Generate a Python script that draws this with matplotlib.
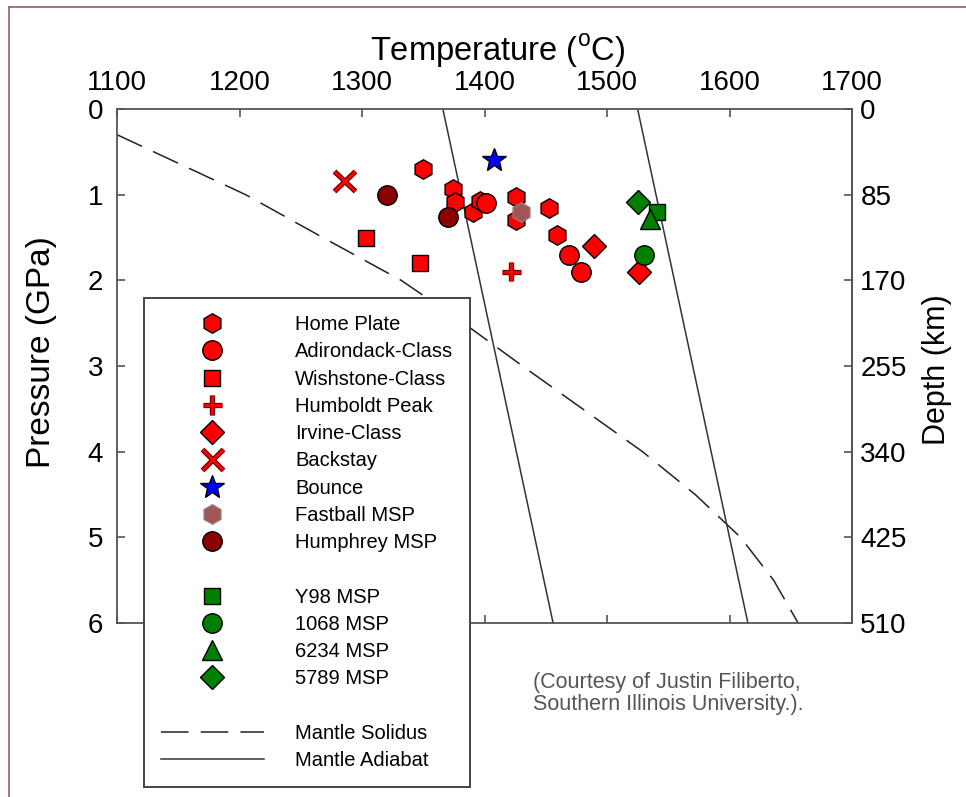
import matplotlib.pyplot as plt
import matplotlib.patheffects as pe
from matplotlib.lines import Line2D

plt.rcParams['font.family'] = ['Liberation Sans', 'DejaVu Sans']
plt.rcParams['mathtext.fontset'] = 'custom'
plt.rcParams['mathtext.rm'] = 'Liberation Sans'

# sample estimates: temperature (C) and pressure (GPa)
home_plate_t = [1350, 1374, 1376, 1391, 1396, 1426, 1426, 1453, 1459]
home_plate_p = [0.70, 0.93, 1.08, 1.20, 1.07, 1.03, 1.30, 1.16, 1.47]
adirondack_t = [1401, 1469, 1479]
adirondack_p = [1.10, 1.70, 1.90]
wishstone_t = [1303, 1347]
wishstone_p = [1.50, 1.80]
humboldt_t = [1422]
humboldt_p = [1.90]
irvine_t = [1489, 1526]
irvine_p = [1.60, 1.90]
backstay_t = [1286]
backstay_p = [0.84]
bounce_t = [1408]
bounce_p = [0.60]
fastball_t = [1430]
fastball_p = [1.20]
humphrey_t = [1320, 1370]
humphrey_p = [1.00, 1.26]
y98_t = [1541]
y98_p = [1.20]
msp1068_t = [1530]
msp1068_p = [1.70]
msp6234_t = [1535]
msp6234_p = [1.28]
msp5789_t = [1525]
msp5789_p = [1.09]

# mantle curves
solidus_t = [1100, 1130, 1205, 1268, 1332, 1383, 1431, 1480, 1529, 1572, 1609, 1636, 1656]
solidus_p = [0.30, 0.5, 1.0, 1.5, 2.0, 2.5, 3.0, 3.5, 4.0, 4.5, 5.0, 5.5, 6.0]
adiabat1_t = [1366, 1456]
adiabat2_t = [1525, 1615]
adiabat_p = [0, 6]

temp_ticks = [1100, 1200, 1300, 1400, 1500, 1600, 1700]
press_ticks = [0, 1, 2, 3, 4, 5, 6]
depth_ticks = [0, 85, 170, 255, 340, 425, 510]

fig = plt.figure(figsize=(9.66, 7.97), dpi=100)
ax = fig.add_axes([117/966, 1-623/797, 735/966, 514/797])

sol, = ax.plot(solidus_t, solidus_p, color='#222222', lw=1.1, dashes=(18, 8), label='Mantle Solidus')
adi, = ax.plot(adiabat1_t, adiabat_p, color='#333333', lw=1.1, label='Mantle Adiabat')
ax.plot(adiabat2_t, adiabat_p, color='#333333', lw=1.1)


def pts(t, p, marker, ms, fc, ec='black', label=None, **kw):
    return ax.plot(t, p, ls='none', marker=marker, ms=ms, mfc=fc, mec=ec,
                   mew=1.0, label=label, **kw)[0]


outline = [pe.withStroke(linewidth=3.8, foreground='#6e0000')]

h_home = pts(home_plate_t, home_plate_p, 'h', 14, '#ff0000', label='Home Plate')
h_adir = pts(adirondack_t, adirondack_p, 'o', 14, '#ff0000', label='Adirondack-Class')
h_wish = pts(wishstone_t, wishstone_p, 's', 12, '#ff0000', label='Wishstone-Class')
h_humb = ax.plot(humboldt_t, humboldt_p, ls='none', marker='+', ms=14, mew=2.0,
                 color='#ff0000', path_effects=outline, label='Humboldt Peak')[0]
h_irv = pts(irvine_t, irvine_p, 'D', 12, '#ff0000', label='Irvine-Class')
h_back = ax.plot(backstay_t, backstay_p, ls='none', marker='x', ms=15, mew=2.0,
                 color='#ff0000', path_effects=outline, label='Backstay')[0]
h_boun = pts(bounce_t, bounce_p, '*', 18, '#0000ff', label='Bounce')
h_fast = pts(fastball_t, fastball_p, 'h', 14, '#a05656', ec='#9a7a7a', label='Fastball MSP')
h_hump = pts(humphrey_t, humphrey_p, 'o', 14, '#8b0000', label='Humphrey MSP')
h_y98 = pts(y98_t, y98_p, 's', 12, '#008000', label='Y98 MSP')
h_1068 = pts(msp1068_t, msp1068_p, 'o', 14, '#008000', label='1068 MSP')
h_6234 = pts(msp6234_t, msp6234_p, '^', 14, '#008000', label='6234 MSP')
h_5789 = pts(msp5789_t, msp5789_p, 'D', 12, '#008000', label='5789 MSP')

blank = Line2D([], [], ls='none')
handles = [h_home, h_adir, h_wish, h_humb, h_irv, h_back, h_boun, h_fast, h_hump,
           blank, h_y98, h_1068, h_6234, h_5789, blank, sol, adi]
labels = [h.get_label() if h is not blank else ' ' for h in handles]

leg = ax.legend(handles, labels, loc='upper left',
                bbox_to_anchor=(144/966, 1-298/797), bbox_transform=fig.transFigure,
                borderaxespad=0, fontsize=14.5, fancybox=False, framealpha=1,
                edgecolor='#444444', handlelength=5.1, handletextpad=1.55,
                labelspacing=0.41, borderpad=0.85, numpoints=1)
leg.get_frame().set_linewidth(1.4)

ax.set_xlim(1100, 1700)
ax.set_ylim(6, 0)
ax.set_xticks(temp_ticks)
ax.set_yticks(press_ticks)
ax.xaxis.tick_top()
ax.xaxis.set_label_position('top')
ax.tick_params(axis='both', direction='in', length=6, width=1.2, color='#555555',
               labelsize=20)
ax.tick_params(axis='x', top=True, bottom=True, labeltop=True, labelbottom=False, pad=9)
ax.tick_params(axis='y', left=True, right=False, pad=10)
for s in ax.spines.values():
    s.set_color('#555555')
    s.set_linewidth(1.3)

sec = ax.secondary_yaxis('right', functions=(lambda p: p*85, lambda d: d/85))
sec.set_yticks(depth_ticks)
sec.tick_params(direction='in', length=6, width=1.2, color='#555555', labelsize=20, pad=6)
sec.spines['right'].set_color('#555555')
sec.spines['right'].set_linewidth(1.3)

ax.set_xlabel(r'Temperature ($^{\mathrm{o}}$C)', fontsize=23.5)
ax.xaxis.set_label_coords(0.518, 1.095)
ax.set_ylabel('Pressure (GPa)', fontsize=24)
ax.yaxis.set_label_coords(-0.082, 0.527)
fig.text(937/966, 1-370/797, 'Depth (km)', rotation=90, ha='center', va='center', fontsize=22)

fig.text(533/966, 1-672/797, '(Courtesy of Justin Filiberto,\nSouthern Illinois University.).',
         fontsize=15.5, color='#555555', va='top', ha='left', linespacing=1.05)

# frame of the original picture
fig.add_artist(Line2D([9/966, 9/966], [0, 1-7/797], transform=fig.transFigure,
                      color='#8e6464', lw=1.2))
fig.add_artist(Line2D([9/966, 1], [1-7/797, 1-7/797], transform=fig.transFigure,
                      color='#8e6464', lw=1.2))

fig.savefig('out.png', dpi=100)
